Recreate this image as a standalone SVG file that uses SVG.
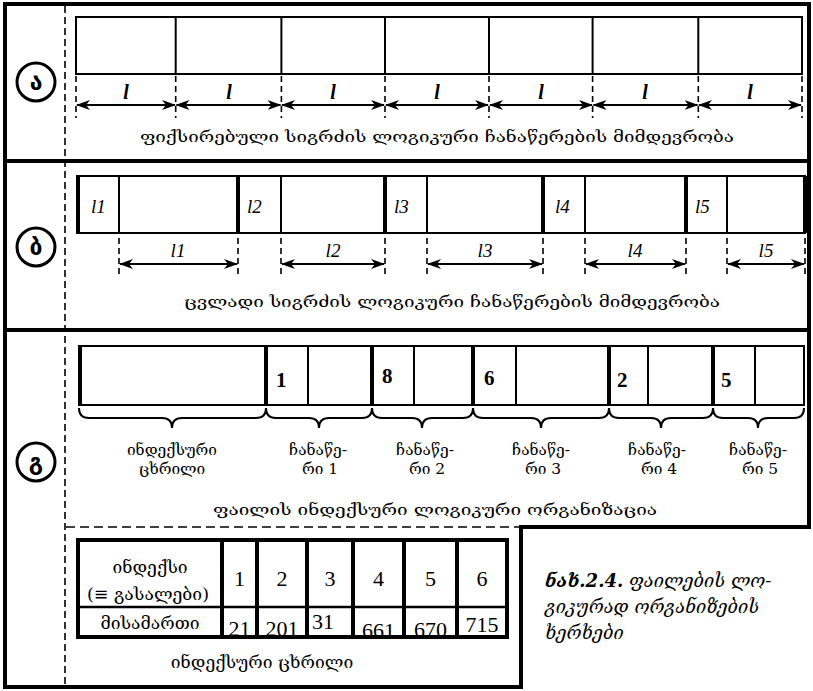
<svg xmlns="http://www.w3.org/2000/svg" width="813" height="691" viewBox="0 0 813 691">
<style>
.frame{stroke:#000;stroke-width:4;fill:none}
.thin{stroke:#000;stroke-width:2;fill:none}
.thick{stroke:#000;stroke-width:4;fill:none}
.dash{stroke:#000;stroke-width:1.6;stroke-dasharray:7 4;fill:none}
.tick{stroke:#000;stroke-width:1.6;stroke-dasharray:6 4;fill:none}
.arr{stroke:#000;stroke-width:2;fill:none;marker-start:url(#ah);marker-end:url(#ah)}
.geo{font-family:"DejaVu Serif","DejaVu Sans",serif;font-size:15.5px;fill:#000}
.tgeo{font-size:17.5px}
.lab{font-family:"Liberation Serif",serif;font-style:italic;font-size:20px;fill:#000}
.num{font-family:"Liberation Serif",serif;font-weight:bold;font-size:21px;fill:#000}
.tnum{font-family:"Liberation Serif",serif;font-size:22px;fill:#000;text-anchor:middle}
.circ{stroke:#000;stroke-width:3;fill:#fff}
.cl{font-family:"DejaVu Sans",sans-serif;font-weight:bold;font-size:23px;text-anchor:middle;fill:#000}
.mid{text-anchor:middle}
</style>
<defs>
<marker id="ah" markerWidth="14" markerHeight="10" refX="13" refY="5" orient="auto-start-reverse" markerUnits="userSpaceOnUse">
<path d="M0,0 L14,5 L0,10 L4,5 Z" fill="#000"/>
</marker>
</defs>
<rect width="813" height="691" fill="#fff"/>

<g id="frame">
<path class="frame" d="M5,2 V689 M3,4 H811 M809,2 V529 M3,161 H811 M3,330 H811 M519,527 H811 M521,525 V689 M3,687 H523"/>
<path class="dash" d="M65,6 V686"/>
<path class="dash" style="stroke-dasharray:9 5" d="M66,527 H519"/>
</g>

<g id="label-a"><circle class="circ" cx="36" cy="82" r="19"/><text class="cl" x="36" y="90">ა</text></g>
<g id="label-b"><circle class="circ" cx="36" cy="247" r="19"/><text class="cl" x="36" y="255">ბ</text></g>
<g id="label-c"><circle class="circ" cx="36" cy="462" r="19"/><text class="cl" x="36" y="470">გ</text></g>

<g id="fixed-records">
<rect class="thin" x="76" y="17" width="726" height="57"/>
<path class="thin" d="M175.7,17 V74 M281.4,17 V74 M385,17 V74 M489,17 V74 M592.6,17 V74 M698.3,17 V74"/>
<g class="lab" style="font-weight:bold">
<text class="mid" x="126" y="99">l</text><text class="mid" x="229" y="99">l</text><text class="mid" x="333" y="99">l</text><text class="mid" x="437" y="99">l</text><text class="mid" x="541" y="99">l</text><text class="mid" x="645" y="99">l</text><text class="mid" x="750" y="99">l</text>
</g>
<text class="geo mid" x="437" y="142" textLength="594" lengthAdjust="spacingAndGlyphs">ფიქსირებული  სიგრძის  ლოგიკური  ჩანაწერების  მიმდევრობა</text>
</g>

<g id="variable-records">
<rect class="thin" x="77" y="176" width="728" height="57"/>
<path class="thick" d="M78,176 V233 M238,176 V233 M385,176 V233 M543,176 V233 M686,176 V233 M805,176 V233"/>
<path class="thin" d="M119,176 V233 M281,176 V233 M427,176 V233 M585,176 V233 M727,176 V233"/>
<g class="lab" style="font-size:19px">
<text x="91" y="213">l1</text><text x="247" y="213">l2</text><text x="394" y="213">l3</text><text x="555" y="213">l4</text><text x="695" y="213">l5</text>
<text class="mid" x="178" y="257">l1</text><text class="mid" x="333" y="257">l2</text><text class="mid" x="485" y="257">l3</text><text class="mid" x="635" y="257">l4</text><text class="mid" x="766" y="257">l5</text>
</g>
<text class="geo mid" x="452" y="307" textLength="536" lengthAdjust="spacingAndGlyphs">ცვლადი  სიგრძის  ლოგიკური  ჩანაწერების  მიმდევრობა</text>
</g>

<g id="indexed-file">
<rect class="thin" x="79" y="346" width="725" height="59"/>
<path class="thick" d="M80,346 V405 M266,346 V405 M372,346 V405 M473,346 V405 M609,346 V405 M713,346 V405"/>
<path class="thin" d="M308,346 V405 M414,346 V405 M516,346 V405 M648,346 V405 M755,346 V405"/>
<text class="num" x="276" y="387">1</text>
<text class="num" x="382" y="383">8</text>
<text class="num" x="484" y="385">6</text>
<text class="num" x="617" y="387">2</text>
<text class="num" x="721" y="387">5</text>
<g class="geo mid">
<text x="172" y="455">ინდექსური</text><text x="172" y="474">ცხრილი</text>
<text x="318" y="455">ჩანაწე-</text><text x="320" y="474">რი  1</text>
<text x="425" y="455">ჩანაწე-</text><text x="427" y="474">რი  2</text>
<text x="541" y="455">ჩანაწე-</text><text x="543" y="474">რი  3</text>
<text x="657" y="455">ჩანაწე-</text><text x="659" y="474">რი  4</text>
<text x="758" y="455">ჩანაწე-</text><text x="760" y="474">რი  5</text>
</g>
<text class="geo mid" x="435" y="515" textLength="444" lengthAdjust="spacingAndGlyphs">ფაილის  ინდექსური  ლოგიკური  ორგანიზაცია</text>
</g>

<g id="index-table">
<g class="geo tgeo mid">
<text x="150" y="573">ინდექსი</text>
<text x="148" y="600">(≡ გასალები)</text>
<text x="150" y="629">მისამართი</text>
</g>
<g class="tnum">
<text x="239.5" y="586">1</text><text x="282" y="586">2</text><text x="330" y="586">3</text><text x="378.5" y="586">4</text><text x="430.5" y="586">5</text><text x="482" y="586">6</text>
<text x="239.5" y="636">21</text><text x="282" y="636">201</text><text x="323" y="629">31</text><text x="378.5" y="638">661</text><text x="430.5" y="637">670</text><text x="482" y="632">715</text>
</g>
<rect x="78" y="540" width="429" height="97" stroke="#000" stroke-width="4" fill="none"/>
<path class="thick" d="M222,540 V637 M257,540 V637 M307,540 V637 M353,540 V637 M404,540 V637 M457,540 V637"/>
<path class="thin" style="stroke-width:2.5" d="M78,607 H507"/>
<text class="geo tgeo mid" x="262" y="668">ინდექსური  ცხრილი</text>
</g>

<g id="braces">
<path class="thin" d="M79,408 q0,10 10,10 H162 q10,0 10,10 q0,-10 10,-10 H256 q10,0 10,-10"/>
<path class="thin" d="M266,408 q0,10 10,10 H309 q10,0 10,10 q0,-10 10,-10 H362 q10,0 10,-10"/>
<path class="thin" d="M372,408 q0,10 10,10 H412 q10,0 10,10 q0,-10 10,-10 H463 q10,0 10,-10"/>
<path class="thin" d="M473,408 q0,10 10,10 H531 q10,0 10,10 q0,-10 10,-10 H599 q10,0 10,-10"/>
<path class="thin" d="M609,408 q0,10 10,10 H651 q10,0 10,10 q0,-10 10,-10 H703 q10,0 10,-10"/>
<path class="thin" d="M713,408 q0,10 10,10 H748 q10,0 10,10 q0,-10 10,-10 H794 q10,0 10,-10"/>
</g>

<g id="connectors">
<path class="tick" d="M76,76 V118 M175.7,76 V118 M281.4,76 V118 M385,76 V118 M489,76 V118 M592.6,76 V118 M698.3,76 V118 M802,76 V118"/>
<path class="arr" d="M77,105 H175"/>
<path class="arr" d="M176.5,105 H280.5"/>
<path class="arr" d="M282,105 H384"/>
<path class="arr" d="M386,105 H488"/>
<path class="arr" d="M490,105 H592"/>
<path class="arr" d="M593.5,105 H697.5"/>
<path class="arr" d="M699,105 H801"/>
<path class="tick" d="M119,238 V274 M238,238 V274 M281,238 V274 M385,238 V274 M427,238 V274 M543,238 V274 M585,238 V274 M686,238 V274 M727,238 V274 M805,238 V274"/>
<path class="arr" d="M120,264 H237"/>
<path class="arr" d="M282,264 H384"/>
<path class="arr" d="M428,264 H542"/>
<path class="arr" d="M586,264 H685"/>
<path class="arr" d="M728,264 H804"/>
</g>

<g id="caption">
<text class="geo" style="font-size:18px;font-style:italic" x="545" y="587"><tspan style="font-weight:bold">ნახ.2.4.</tspan> ფაილების  ლო-</text>
<text class="geo" style="font-size:18px;font-style:italic" x="545" y="613">გიკურად  ორგანიზების</text>
<text class="geo" style="font-size:18px;font-style:italic" x="545" y="639">ხერხები</text>
</g>
</svg>
